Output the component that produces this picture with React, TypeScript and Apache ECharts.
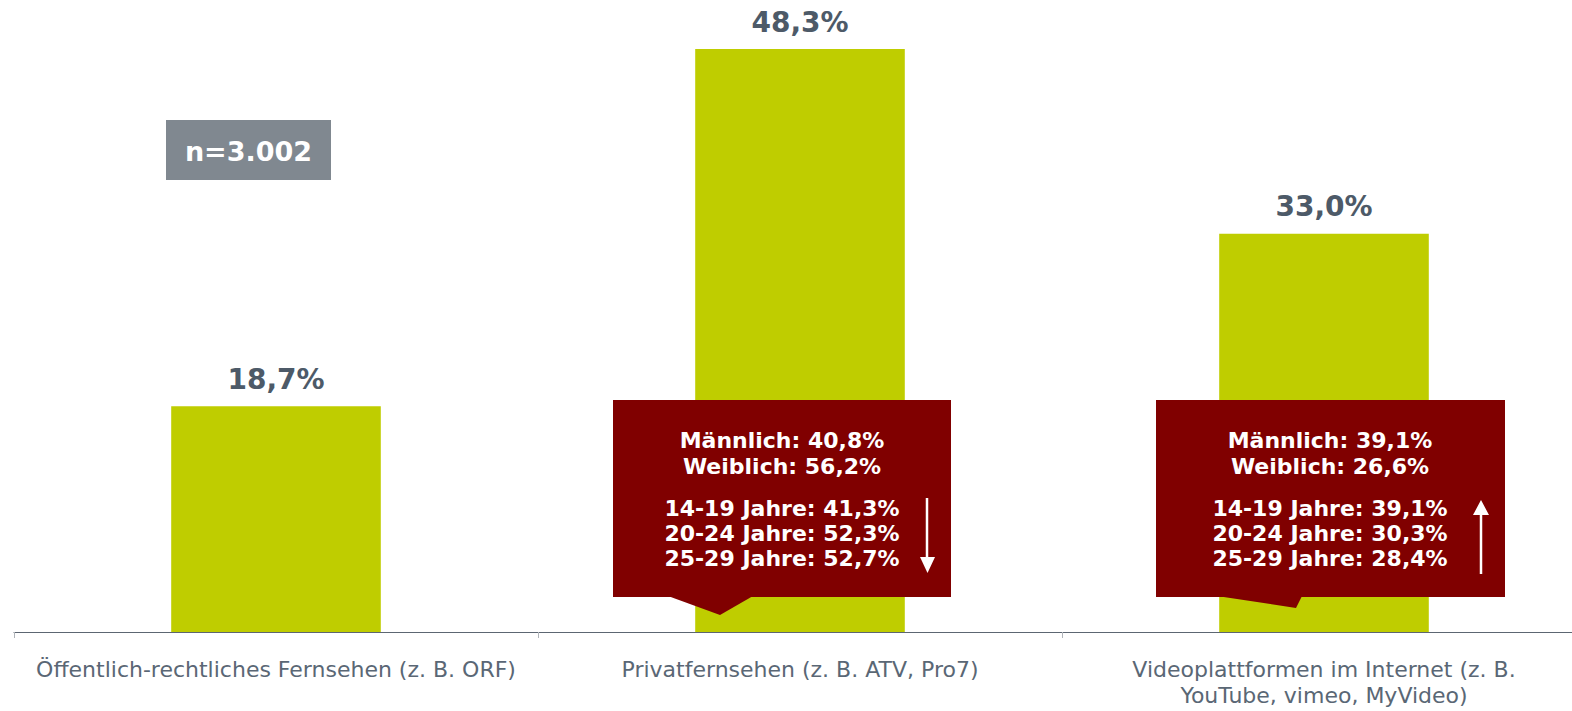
import React, { useEffect, useRef } from "react";
import * as echarts from "echarts";

const categories = [
  "Öffentlich-rechtliches Fernsehen (z. B. ORF)",
  "Privatfernsehen (z. B. ATV, Pro7)",
  "Videoplattformen im Internet (z. B.\nYouTube, vimeo, MyVideo)",
];
const values = [18.7, 48.3, 33.0];
const sampleLabel = "n=3.002";
const callout2Gender = ["Männlich: 40,8%", "Weiblich: 56,2%"];
const callout2Age = ["14-19 Jahre: 41,3%", "20-24 Jahre: 52,3%", "25-29 Jahre: 52,7%"];
const callout3Gender = ["Männlich: 39,1%", "Weiblich: 26,6%"];
const callout3Age = ["14-19 Jahre: 39,1%", "20-24 Jahre: 30,3%", "25-29 Jahre: 28,4%"];

const FONT = "'DejaVu Sans', Verdana, sans-serif";
const DARKRED = "#800000";

function calloutTexts(cx: number, gender: string[], age: string[]) {
  const ys = [440, 466, 508, 533, 558];
  const lines = [...gender, ...age];
  return lines.map((t, i) => ({
    type: "text",
    x: cx,
    y: ys[i],
    style: {
      text: t,
      fill: "#ffffff",
      font: `bold 22px ${FONT}`,
      textAlign: "center",
      textVerticalAlign: "middle",
    },
    z: 20,
  }));
}

export default function App() {
  const ref = useRef<HTMLDivElement>(null);
  useEffect(() => {
    if (!ref.current) return;
    const chart = echarts.init(ref.current, undefined, { renderer: "svg" });
    chart.setOption({
      animation: false,
      grid: { left: 14, right: -14, top: 28.5, bottom: 79, outerBoundsMode: "none", containLabel: false },
      xAxis: {
        type: "category",
        data: categories,
        axisLine: { lineStyle: { color: "#5c6672", width: 1 } },
        axisTick: { show: true, length: 6, lineStyle: { color: "#b0b4ba" } },
        axisLabel: {
          color: "#5a6775",
          fontFamily: FONT,
          fontSize: 22,
          lineHeight: 26,
          margin: 24,
          interval: 0,
        },
      },
      yAxis: { type: "value", min: 0, max: 50, show: false, splitLine: { show: false } },
      series: [
        {
          type: "bar",
          data: values,
          barWidth: "40%",
          itemStyle: { color: "#bfcd00" },
          label: {
            show: true,
            position: "top",
            distance: 13,
            color: "#4d5a68",
            fontFamily: FONT,
            fontWeight: "bold",
            fontSize: 28,
            formatter: (p: any) => p.value.toFixed(1).replace(".", ",") + "%",
          },
        },
      ],
      graphic: [
        {
          type: "rect",
          shape: { x: 166, y: 120, width: 165, height: 60 },
          style: { fill: "#808890" },
          z: 10,
        },
        {
          type: "text",
          x: 248.5,
          y: 151,
          style: {
            text: sampleLabel,
            fill: "#ffffff",
            font: `bold 27px ${FONT}`,
            textAlign: "center",
            textVerticalAlign: "middle",
          },
          z: 11,
        },
        // callout 2
        {
          type: "rect",
          shape: { x: 613, y: 400, width: 338, height: 197 },
          style: { fill: DARKRED },
          z: 10,
        },
        {
          type: "polygon",
          shape: { points: [[668, 596], [720, 615], [753, 596]] },
          style: { fill: DARKRED },
          z: 10,
        },
        ...calloutTexts(782, callout2Gender, callout2Age),
        {
          type: "line",
          shape: { x1: 927, y1: 498, x2: 927, y2: 560 },
          style: { stroke: "#ffffff", lineWidth: 2.5 },
          z: 20,
        },
        {
          type: "polygon",
          shape: { points: [[920, 557], [935, 557], [927.5, 573]] },
          style: { fill: "#ffffff" },
          z: 20,
        },
        // callout 3
        {
          type: "rect",
          shape: { x: 1156, y: 400, width: 349, height: 197 },
          style: { fill: DARKRED },
          z: 10,
        },
        {
          type: "polygon",
          shape: { points: [[1217, 596], [1296, 608], [1302, 596]] },
          style: { fill: DARKRED },
          z: 10,
        },
        ...calloutTexts(1330, callout3Gender, callout3Age),
        {
          type: "line",
          shape: { x1: 1481, y1: 512, x2: 1481, y2: 574 },
          style: { stroke: "#ffffff", lineWidth: 2.5 },
          z: 20,
        },
        {
          type: "polygon",
          shape: { points: [[1473, 515], [1489, 515], [1481, 500]] },
          style: { fill: "#ffffff" },
          z: 20,
        },
      ],
    });
    return () => chart.dispose();
  }, []);
  return (
    <div
      ref={ref}
      style={{ position: "absolute", left: 0, top: 0, width: 1572, height: 711, background: "#ffffff" }}
    />
  );
}
